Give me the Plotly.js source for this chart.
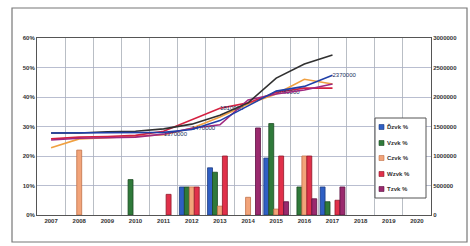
<!DOCTYPE html>
<html>
<head>
<meta charset="utf-8">
<script src="https://cdn.plot.ly/plotly-3.0.1.min.js"></script>
<style>html,body{margin:0;padding:0;background:#fff;}#chart{width:470px;height:246px;}</style>
</head>
<body>
<div id="chart"></div>
<script>
const years = ['2007','2008','2009','2010','2011','2012','2013','2014','2015','2016','2017','2018','2019','2020'];
const lineYears = ['2007','2008','2009','2010','2011','2012','2013','2014','2015','2016','2017'];

// bar series (percent, left axis)
const barNames = ['Ďzvk %','Vzvk %','Czvk %','Wzvk %','Tzvk %'];
const barD = [null,null,null,null,null,9.5,16,null,19.3,null,9.5,null,null,null];
const barV = [null,null,null,12,null,9.5,14.5,null,31,9.5,4.5,null,null,null];
const barC = [null,22,null,null,null,9.5,3,6,2,20,null,null,null,null];
const barW = [null,null,null,null,7,9.5,20,null,20,20,5,null,null,null];
const barT = [null,null,null,null,null,null,null,29.5,4.5,5.5,9.5,null,null,null];

// line series (right axis)
const lineBlue   = [1390000,1390000,1390000,1395000,1400000,1450000,1600000,1850000,2100000,2180000,2370000];
const lineBlack  = [1390000,1390000,1410000,1420000,1460000,1540000,1690000,1900000,2320000,2560000,2710000];
const lineOrange = [1140000,1290000,1310000,1330000,1360000,1470000,1660000,1880000,2050000,2300000,2220000];
const lineRed    = [1290000,1320000,1330000,1350000,1420000,1610000,1810000,1900000,2080000,2150000,2150000];
const linePurple = [1270000,1300000,1310000,1320000,1370000,1470000,1530000,1950000,2050000,2120000,2220000];

const leftTicks = [0,10,20,30,40,50,60];
const leftTickText = ['0%','10%','20%','30%','40%','50%','60%'];
const rightTicks = [0,500000,1000000,1500000,2000000,2500000,3000000];
const rightTickText = ['0','500000','1000000','1500000','2000000','2500000','3000000'];

const barColors = ['#2f5fc4','#2f7a3a','#f2a47a','#e0304a','#9a2a6e'];
const barLines  = ['#1a3a80','#1c4a22','#c07048','#901828','#5a1040'];
const barSeries = [barD,barV,barC,barW,barT];

const traces = [];
barSeries.forEach((vals,i)=>{
  traces.push({type:'bar', x:years, y:vals, name:barNames[i],
    marker:{color:barColors[i], line:{color:barLines[i], width:0.8}}, yaxis:'y'});
});

function lbl(vals, idxs){ return vals.map((v,i)=> idxs.includes(i) ? String(v) : ''); }

const lineDefs = [
  {y:lineOrange, c:'#f0a040', t:[]},
  {y:lineRed, c:'#d42040', t:[6,8]},
  {y:linePurple, c:'#a02880', t:[4,5]},
  {y:lineBlack, c:'#303030', t:[]},
  {y:lineBlue, c:'#2040a8', t:[10]},
];
lineDefs.forEach(d=>{
  traces.push({type:'scatter', mode:'lines+text', x:lineYears, y:d.y, yaxis:'y2',
    line:{color:d.c, width:1.6}, showlegend:false,
    text:lbl(d.y,d.t), textposition:'middle right',
    textfont:{size:6, color:'#203060', family:'Liberation Sans, Arial, sans-serif'},
    cliponaxis:false});
});

// manual legend (paper coords; plot spans x 37..431 px, y 38..215 px)
const px = v => (v-37)/394;
const py = v => (215-v)/177;
const shapes = [
  {type:'rect', xref:'paper', yref:'paper', layer:'below',
    x0:px(12), x1:px(467), y0:py(242), y1:py(8),
    line:{color:'#777', width:1.2}, fillcolor:'rgba(0,0,0,0)'},
  {type:'rect', xref:'paper', yref:'paper', layer:'above',
    x0:px(375), x1:px(426), y0:py(198), y1:py(118),
    line:{color:'#555', width:1}, fillcolor:'#ffffff'}
];
const annotations = [];
const legendY = [127,143,158,174,189];
barNames.forEach((n,i)=>{
  const yy = legendY[i];
  shapes.push({type:'rect', xref:'paper', yref:'paper', layer:'above',
    x0:px(379), x1:px(384), y0:py(yy+2.5), y1:py(yy-2.5),
    line:{color:barLines[i], width:0.6}, fillcolor:barColors[i]});
  annotations.push({xref:'paper', yref:'paper', x:px(385), y:py(yy),
    xanchor:'left', yanchor:'middle', showarrow:false, text:n,
    font:{size:6, color:'#333', weight:'bold'}});
});

const layout = {
  width:470, height:246,
  margin:{l:37, r:39, t:38, b:31},
  paper_bgcolor:'#ffffff', plot_bgcolor:'#ffffff',
  font:{family:'Liberation Sans, Arial, sans-serif', size:6, color:'#333'},
  barmode:'group', bargap:0.12, bargroupgap:0,
  showlegend:false,
  xaxis:{type:'category', categoryorder:'array', categoryarray:years, range:[-0.5,13.5],
    tickson:'boundaries', showgrid:true, gridcolor:'#a8aeb6', gridwidth:0.8,
    showline:true, linecolor:'#555', mirror:true, ticks:'',
    tickfont:{size:6, color:'#333', weight:'bold'}},
  yaxis:{range:[0,60], tickvals:leftTicks, ticktext:leftTickText,
    showgrid:true, gridcolor:'#a8aec4', gridwidth:0.8, zeroline:false,
    showline:true, linecolor:'#555', ticks:'',
    tickfont:{size:6, color:'#333', weight:'bold'}},
  yaxis2:{overlaying:'y', side:'right', range:[0,3000000],
    tickvals:rightTicks, ticktext:rightTickText, showgrid:false, zeroline:false,
    showline:true, linecolor:'#555', ticks:'',
    tickfont:{size:6, color:'#333', weight:'bold'}},
  shapes:shapes,
  annotations:annotations
};

Plotly.newPlot('chart', traces, layout, {displayModeBar:false, staticPlot:true});
</script>
</body>
</html>
